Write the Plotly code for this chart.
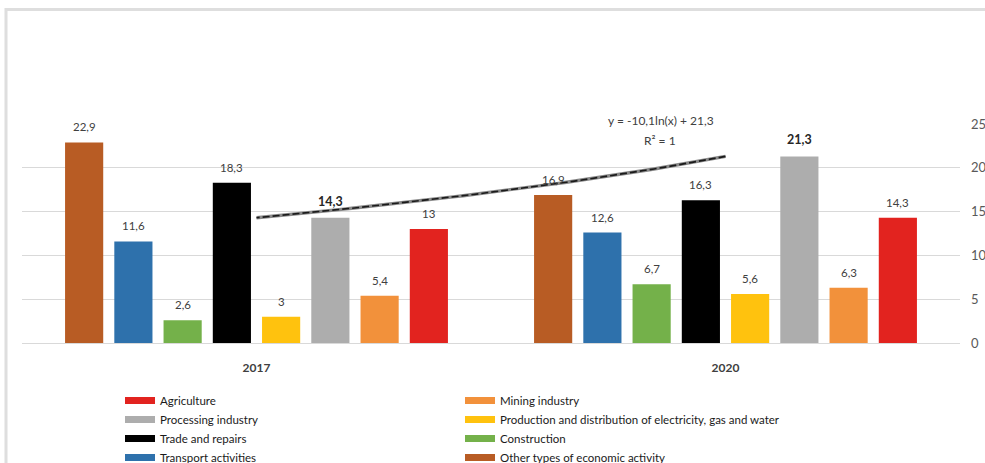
import numpy as np
import plotly.graph_objects as go

# ---- data -----------------------------------------------------------------
years = ["2017", "2020"]

# series in the order they are drawn inside each year group (left to right)
sectors = [
    "Other types of economic activity",
    "Transport activities",
    "Construction",
    "Trade and repairs",
    "Production and distribution of electricity, gas and water",
    "Processing industry",
    "Mining industry",
    "Agriculture",
]
other_types = [22.9, 16.9]
transport = [11.6, 12.6]
construction = [2.6, 6.7]
trade = [18.3, 16.3]
production = [3.0, 5.6]
processing = [14.3, 21.3]
mining = [5.4, 6.3]
agriculture = [13.0, 14.3]
series_values = [other_types, transport, construction, trade,
                 production, processing, mining, agriculture]

y_ticks = [0, 5, 10, 15, 20, 25]

# ---- styling --------------------------------------------------------------
colors = ["#B85C24", "#2E71AC", "#74B14A", "#000000",
          "#FFC20E", "#ADADAD", "#F2913B", "#E2231F"]
FONT = "Lato"
W, H = 985, 463
L, R, T, B = 22, 25, 124, 120
BARGAP, GROUPGAP = 0.16, 0.225
PW, PH = W - L - R, H - T - B


def fmt(v, nd=1):
    s = f"{round(v, nd):g}"
    return s.replace(".", ",")


def px_to_paper_x(px):
    return (px - L) / PW


def px_to_paper_y(py):
    return (H - B - py) / PH


x_pos = list(range(len(years)))
n = len(sectors)

fig = go.Figure()

# grouped bars
for k, (name, vals, col) in enumerate(zip(sectors, series_values, colors)):
    fig.add_trace(go.Bar(
        x=x_pos, y=vals, name=name, marker=dict(color=col, line=dict(width=0)),
        showlegend=False,
    ))

# value labels above the bars
slot = (1 - BARGAP) / n
annotations = []
for k, vals in enumerate(series_values):
    bold = sectors[k] == "Processing industry"
    for c, v in zip(x_pos, vals):
        xc = c - (1 - BARGAP) / 2 + (k + 0.5) * slot
        annotations.append(dict(
            x=xc, y=v, xref="x", yref="y", text=f"<b>{fmt(v)}</b>" if bold else fmt(v),
            showarrow=False, xanchor="center", yanchor="bottom", yshift=7,
            font=dict(family=FONT, size=12.5 if bold else 11.5,
                      color="#262626" if bold else "#404040"),
        ))

# logarithmic trend line on the Processing industry series
# (category index counted from the right-most group, as in the source workbook)
t_idx = np.array([len(years) - i for i in x_pos], dtype=float)
a, b = np.polyfit(np.log(t_idx), np.array(processing), 1)
pred = a * np.log(t_idx) + b
ss_res = np.sum((np.array(processing) - pred) ** 2)
ss_tot = np.sum((np.array(processing) - np.mean(processing)) ** 2)
r2 = 1 - ss_res / ss_tot
t_line = np.linspace(1, len(years), 60)
x_line = len(years) - t_line
y_line = a * np.log(t_line) + b
fig.add_trace(go.Scatter(x=x_line, y=y_line, mode="lines",
                         line=dict(color="#8a8a8a", width=3.4),
                         showlegend=False, hoverinfo="skip"))
fig.add_trace(go.Scatter(x=x_line, y=y_line, mode="lines",
                         line=dict(color="#1a1a1a", width=1.6, dash="7px,3px"),
                         showlegend=False, hoverinfo="skip"))

sign = "-" if b < 0 else "+"
eq_text = f"y = {fmt(a)}ln(x) {sign} {fmt(abs(b))}"
annotations.append(dict(x=px_to_paper_x(661), y=px_to_paper_y(121), xref="paper", yref="paper",
                        text=eq_text, showarrow=False, xanchor="center", yanchor="middle",
                        font=dict(family=FONT, size=12, color="#404040")))
annotations.append(dict(x=px_to_paper_x(660), y=px_to_paper_y(140), xref="paper", yref="paper",
                        text=f"R² = {fmt(r2, 4)}", showarrow=False,
                        xanchor="center", yanchor="middle",
                        font=dict(family=FONT, size=12, color="#404040")))

# legend entries (reverse of drawing order, two columns)
for name, col in reversed(list(zip(sectors, colors))):
    fig.add_trace(go.Scatter(x=[None], y=[None], mode="lines", name=name,
                             line=dict(color=col, width=7), hoverinfo="skip"))

fig.update_layout(
    width=W, height=H,
    margin=dict(l=L, r=R, t=T, b=B, autoexpand=False),
    paper_bgcolor="white", plot_bgcolor="white",
    font=dict(family=FONT, size=11, color="#404040"),
    barmode="group", bargap=BARGAP, bargroupgap=GROUPGAP,
    showlegend=True,
    legend=dict(
        orientation="h", xref="container", yref="container",
        x=120 / W, y=1 - 386 / H, xanchor="left", yanchor="top",
        entrywidth=295, entrywidthmode="pixels", itemwidth=30,
        font=dict(family=FONT, size=11.5, color="#1a1a1a"),
        bgcolor="rgba(0,0,0,0)", traceorder="normal",
    ),
    xaxis=dict(
        range=[-0.5, len(years) - 0.5], tickvals=x_pos,
        ticktext=[f"<b>{y}</b>" for y in years],
        tickfont=dict(family=FONT, size=12, color="#404040"),
        showgrid=False, zeroline=False, showline=True, linecolor="#d9d9d9",
        ticks="", ticklabelstandoff=14, fixedrange=True,
    ),
    yaxis=dict(
        side="right", range=[0, 25], tickvals=y_ticks,
        tickfont=dict(family=FONT, size=13, color="#595959"),
        showgrid=True, gridcolor="#d9d9d9", gridwidth=1,
        zeroline=False, showline=False, ticks="", ticklabelstandoff=10,
        fixedrange=True,
    ),
    annotations=annotations,
    shapes=[dict(type="rect", xref="paper", yref="paper",
                 x0=px_to_paper_x(6), x1=px_to_paper_x(1000),
                 y0=px_to_paper_y(480), y1=px_to_paper_y(9.5),
                 line=dict(color="#dedede", width=3), fillcolor="rgba(0,0,0,0)",
                 layer="above")],
)

fig.write_html("out.html")
